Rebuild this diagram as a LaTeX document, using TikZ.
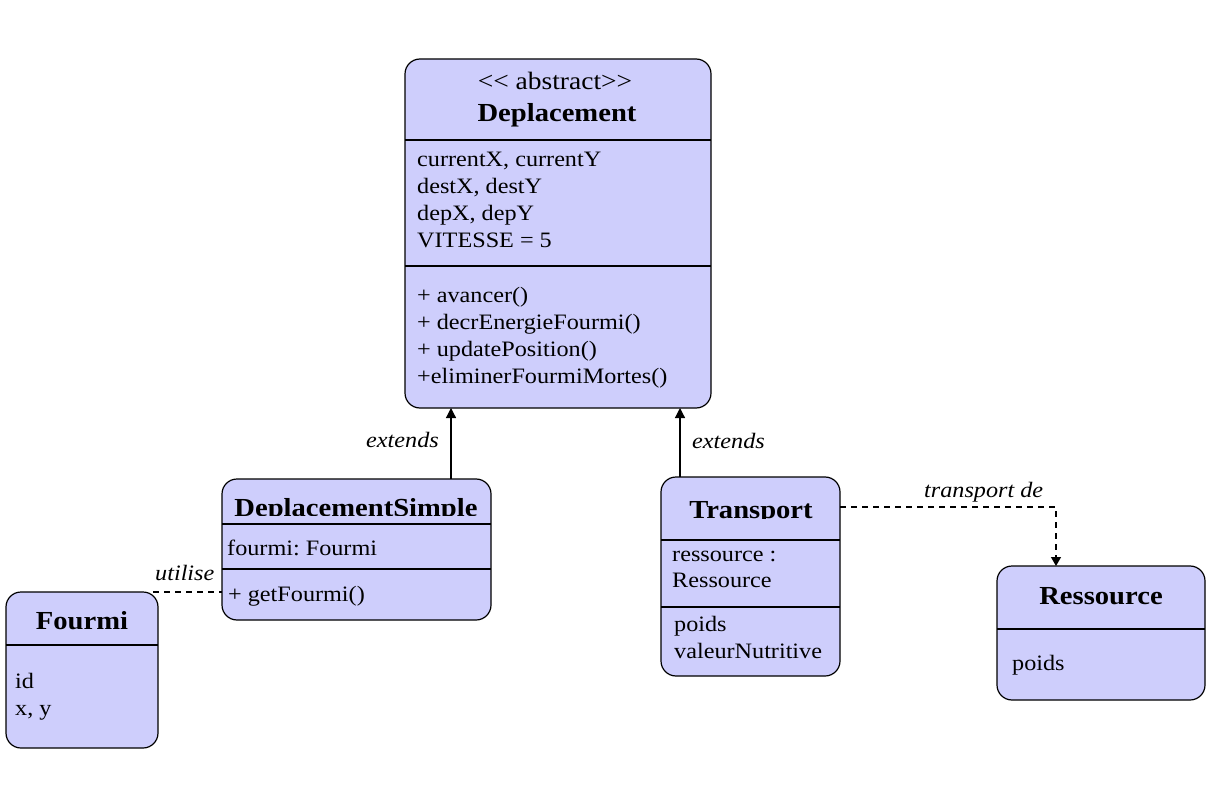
\documentclass[tikz,border=0pt]{standalone}
\usepackage{fontspec}
\setmainfont{Liberation Serif}[FakeStretch=1.1]
\usetikzlibrary{arrows.meta}
\definecolor{umlfill}{RGB}{206,206,252}
\frenchspacing
\tikzset{
  classbox/.style={draw=black, fill=umlfill, line width=1.2pt, rounded corners=15pt,
    inner sep=0pt, outer sep=0pt, anchor=north west},
  divider/.style={draw=black, line width=1.2pt},
  txt/.style={inner sep=0pt, anchor=base west, font=\fontsize{22}{27}\selectfont},
  ttl/.style={inner sep=0pt, anchor=base, font=\fontsize{26}{30}\selectfont\bfseries},
  lbl/.style={inner sep=0pt, font=\fontsize{22}{27}\selectfont\itshape},
  extends/.style={draw=black, line width=1.2pt, -{Triangle[width=10pt,length=10pt]}},
  depline/.style={draw=black, line width=1.2pt, dash pattern=on 6pt off 5pt},
  deparrow/.style={depline, -{Triangle[width=10pt,length=9pt]}}
}
\begin{document}
\begin{tikzpicture}[x=1pt,y=-1pt]
\useasboundingbox (0,0) rectangle (1215,810);

% Deplacement
\node[classbox, minimum width=306pt, minimum height=349pt] (dep) at (405,59) {};
\draw[divider] (dep.west |- 0,140) -- (dep.east |- 0,140);
\draw[divider] (dep.west |- 0,266) -- (dep.east |- 0,266);
\node[txt, anchor=base, font=\fontsize{25}{30}\selectfont] (depst) at (555,90) {<\kern0pt< abstract>\kern0pt>};
\node[ttl] (depname) at (557,122) {Deplacement};
\node[txt] (depa1) at (417,167) {currentX, currentY};
\node[txt] (depa2) at (417,194) {destX, destY};
\node[txt] (depa3) at (417,221) {depX, depY};
\node[txt] (depa4) at (417,248) {VITESSE = 5};
\node[txt] (depm1) at (417,302) {+ avancer()};
\node[txt] (depm2) at (417,329) {+ decrEnergieFourmi()};
\node[txt] (depm3) at (417,356) {+ updatePosition()};
\node[txt] (depm4) at (417,383) {+eliminerFourmiMortes()};

% DeplacementSimple
\node[classbox, minimum width=269pt, minimum height=141pt] (dsimple) at (222,479) {};
\draw[divider] (dsimple.west |- 0,524) -- (dsimple.east |- 0,524);
\draw[divider] (dsimple.west |- 0,569) -- (dsimple.east |- 0,569);
\begin{scope}
  \clip (222,480) rectangle (491,515.5);
  \node[ttl] (dsname) at (356,516) {DeplacementSimple};
\end{scope}
\node[txt] (dsa1) at (227,555) {fourmi: Fourmi};
\node[txt] (dsm1) at (228,601) {+ getFourmi()};

% Fourmi
\node[classbox, minimum width=152pt, minimum height=156pt] (fourmi) at (6,592) {};
\draw[divider] (fourmi.west |- 0,645) -- (fourmi.east |- 0,645);
\node[ttl] (fname) at (82,629) {Fourmi};
\node[txt] (fa1) at (15,688) {id};
\node[txt] (fa2) at (15,715) {x, y};

% Transport
\node[classbox, minimum width=179pt, minimum height=199pt] (transport) at (661,477) {};
\draw[divider] (transport.west |- 0,540) -- (transport.east |- 0,540);
\draw[divider] (transport.west |- 0,607) -- (transport.east |- 0,607);
\begin{scope}
  \clip (661,478) rectangle (840,518);
  \node[ttl] (tname) at (751,518.5) {Transport};
\end{scope}
\node[txt] (ta1) at (672,561) {ressource :};
\node[txt] (ta2) at (672,587) {Ressource};
\node[txt] (ta3) at (674,631) {poids};
\node[txt] (ta4) at (674,658) {valeurNutritive};

% Ressource
\node[classbox, minimum width=208pt, minimum height=134pt] (ressource) at (997,566) {};
\draw[divider] (ressource.west |- 0,629) -- (ressource.east |- 0,629);
\node[ttl] (rname) at (1101,604) {Ressource};
\node[txt] (ra1) at (1012,670) {poids};

% Connectors
\draw[extends] (451,0 |- dsimple.north) -- (451,0 |- dep.south);
\draw[extends] (680,0 |- transport.north) -- (680,0 |- dep.south);
\node[lbl, anchor=base east] (ext1) at (439,447) {extends};
\node[lbl, anchor=base west] (ext2) at (692,448) {extends};

\coordinate (fcorner) at (153,0 |- fourmi.north);
\draw[depline] (fcorner) -- (dsimple.west |- fourmi.north);
\node[lbl, anchor=base west] (util) at (155,580) {utilise};

\coordinate (tbend) at (1056,507);
\draw[deparrow] (transport.east |- tbend) -| (tbend |- ressource.north);
\node[lbl, anchor=base west] (tde) at (924,497) {transport de};
\end{tikzpicture}
\end{document}
